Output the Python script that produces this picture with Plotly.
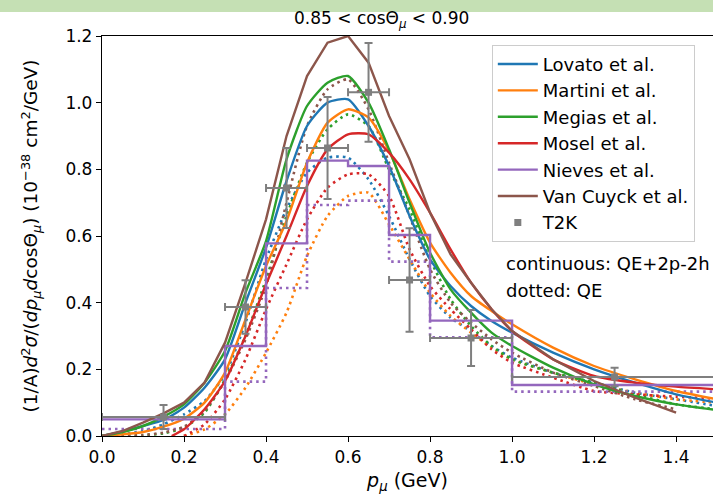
import plotly.graph_objects as go

# ---- data ----
X_GRID = [0.0, 0.05, 0.10, 0.15, 0.20, 0.25, 0.30, 0.35, 0.40, 0.45, 0.50, 0.55, 0.60,
          0.65, 0.70, 0.75, 0.80, 0.85, 0.90, 0.95, 1.00, 1.10, 1.20, 1.30, 1.40, 1.50]
X_VANCUYCK = X_GRID[:-1]
X_MOSEL = [0.17] + X_GRID[4:]
X_LATE = X_GRID[4:]

lovato = [0.0, 0.013, 0.03, 0.048, 0.085, 0.145, 0.23, 0.40, 0.565, 0.765, 0.93, 1.00, 1.01,
          0.93, 0.81, 0.66, 0.53, 0.45, 0.39, 0.345, 0.31, 0.25, 0.20, 0.16, 0.125, 0.10]
martini = [0.0, 0.005, 0.012, 0.028, 0.052, 0.10, 0.19, 0.35, 0.51, 0.645, 0.82, 0.94, 0.98,
           0.955, 0.855, 0.71, 0.58, 0.49, 0.42, 0.375, 0.335, 0.265, 0.21, 0.17, 0.135, 0.11]
megias = [0.0, 0.012, 0.03, 0.058, 0.095, 0.16, 0.255, 0.43, 0.585, 0.83, 0.99, 1.06, 1.08,
          1.0, 0.86, 0.70, 0.55, 0.44, 0.37, 0.31, 0.27, 0.205, 0.155, 0.12, 0.095, 0.078]
mosel = [0.0, 0.02, 0.08, 0.165, 0.30, 0.455, 0.60, 0.75, 0.86, 0.905, 0.905, 0.85, 0.77,
         0.67, 0.56, 0.46, 0.38, 0.315, 0.23, 0.18, 0.16, 0.148, 0.14]
vancuyck = [0.0, 0.015, 0.04, 0.068, 0.10, 0.16, 0.28, 0.46, 0.65, 0.90, 1.08, 1.18, 1.20,
            1.12, 0.96, 0.83, 0.67, 0.545, 0.46, 0.38, 0.315, 0.23, 0.165, 0.115, 0.07]

lovato_qe = [0.0, 0.005, 0.015, 0.035, 0.065, 0.105, 0.185, 0.34, 0.53, 0.68, 0.79, 0.835, 0.835,
             0.77, 0.66, 0.53, 0.42, 0.355, 0.315, 0.27, 0.235, 0.19, 0.16, 0.13, 0.11, 0.09]
megias_qe = [0.0, 0.0, 0.002, 0.008, 0.025, 0.07, 0.17, 0.30, 0.47, 0.66, 0.82, 0.92, 0.965,
             0.93, 0.80, 0.68, 0.53, 0.41, 0.33, 0.27, 0.23, 0.19, 0.16, 0.125, 0.095, 0.08]
vancuyck_qe = [0.0, 0.0, 0.003, 0.01, 0.028, 0.075, 0.165, 0.29, 0.45, 0.70, 0.93, 1.04, 1.07,
               0.98, 0.82, 0.66, 0.50, 0.40, 0.34, 0.29, 0.25, 0.19, 0.15, 0.11, 0.08]
mosel_qe = [0.0, 0.035, 0.11, 0.23, 0.38, 0.515, 0.65, 0.745, 0.785, 0.785, 0.72, 0.56,
            0.45, 0.38, 0.32, 0.26, 0.22, 0.175, 0.135, 0.125, 0.118, 0.112]
martini_qe = [0.0, 0.02, 0.065, 0.145, 0.25, 0.37, 0.54, 0.66, 0.72, 0.73, 0.635, 0.53,
              0.43, 0.36, 0.31, 0.265, 0.23, 0.19, 0.155, 0.13, 0.11, 0.10]

# Nieves et al. histogram (bin edges + contents)
nieves_edges = [0.0, 0.3, 0.4, 0.5, 0.6, 0.7, 0.8, 1.0, 1.5]
nieves = [0.05, 0.27, 0.578, 0.826, 0.81, 0.603, 0.346, 0.153]
nieves_qe = [0.021, 0.163, 0.444, 0.693, 0.706, 0.523, 0.296, 0.133]

# T2K data
t2k_x = [0.15, 0.35, 0.45, 0.55, 0.65, 0.75, 0.90, 1.25]
t2k_xerr = [0.15, 0.05, 0.05, 0.05, 0.05, 0.05, 0.10, 0.25]
t2k_y = [0.057, 0.387, 0.744, 0.864, 1.031, 0.468, 0.294, 0.177]
t2k_yerr = [0.036, 0.08, 0.12, 0.153, 0.148, 0.155, 0.084, 0.028]

COLORS = {
    'Lovato': '#1f77b4', 'Martini': '#ff7f0e', 'Megias': '#2ca02c',
    'Mosel': '#d62728', 'Nieves': '#9467bd', 'Van Cuyck': '#8c564b', 'T2K': '#7f7f7f'
}
FONT = "DejaVu Sans, Arial, sans-serif"
DOT = '2.5px,4px'

fig = go.Figure()

smooth = [
    ('Lovato', X_GRID, lovato, lovato_qe, X_GRID),
    ('Martini', X_GRID, martini, martini_qe, X_LATE),
    ('Megias', X_GRID, megias, megias_qe, X_GRID),
    ('Mosel', X_MOSEL, mosel, mosel_qe, X_LATE),
]

# dotted QE curves first (drawn underneath)
for name, xs, ys, yq, xq in smooth:
    fig.add_trace(go.Scatter(x=xq, y=yq, mode='lines', showlegend=False,
                             line=dict(color=COLORS[name], width=2.6, dash=DOT,
                                       shape='spline', smoothing=0.6)))
fig.add_trace(go.Scatter(x=nieves_edges, y=nieves_qe + [nieves_qe[-1]], mode='lines',
                         showlegend=False,
                         line=dict(color=COLORS['Nieves'], width=2.6, dash=DOT, shape='hv')))
fig.add_trace(go.Scatter(x=X_VANCUYCK, y=vancuyck_qe, mode='lines', showlegend=False,
                         line=dict(color=COLORS['Van Cuyck'], width=2.6, dash=DOT,
                                   shape='spline', smoothing=0.6)))

# continuous QE+2p-2h curves
for name, xs, ys, yq, xq in smooth:
    fig.add_trace(go.Scatter(x=xs, y=ys, mode='lines', name=f'{name} et al.',
                             line=dict(color=COLORS[name], width=2.4,
                                       shape='spline', smoothing=0.6)))
fig.add_trace(go.Scatter(x=nieves_edges, y=nieves + [nieves[-1]], mode='lines',
                         name='Nieves et al.',
                         line=dict(color=COLORS['Nieves'], width=2.4, shape='hv')))
fig.add_trace(go.Scatter(x=X_VANCUYCK, y=vancuyck, mode='lines', name='Van Cuyck et al.',
                         line=dict(color=COLORS['Van Cuyck'], width=2.4)))

fig.add_trace(go.Scatter(
    x=t2k_x, y=t2k_y, mode='markers', name='T2K',
    marker=dict(color=COLORS['T2K'], symbol='square', size=7),
    error_x=dict(type='data', array=t2k_xerr, color=COLORS['T2K'], thickness=2, width=4),
    error_y=dict(type='data', array=t2k_yerr, color=COLORS['T2K'], thickness=2, width=4),
))

fig.update_layout(
    width=713, height=497,
    template='plotly_white',
    paper_bgcolor='white', plot_bgcolor='white',
    font=dict(family=FONT, size=17, color='black'),
    margin=dict(l=102, r=0, t=36, b=61),
    showlegend=True,
    legend=dict(x=0.638, y=0.978, xanchor='left', yanchor='top',
                bgcolor='rgba(255,255,255,0.85)', bordercolor='#cccccc', borderwidth=1,
                font=dict(size=18, family=FONT), tracegroupgap=0, itemwidth=40),
    shapes=[dict(type='rect', xref='paper', yref='paper', x0=-0.2, x1=1.05,
                 y0=1.06, y1=1.10, fillcolor='#c5e0b4', line_width=0, layer='above')],
    annotations=[
        dict(text='0.85 &lt; cosΘ<sub><i>μ</i></sub> &lt; 0.90', xref='paper', yref='paper',
             x=(381 - 102) / 611, y=(436 - 20) / 400, showarrow=False,
             font=dict(size=17), xanchor='center', yanchor='middle'),
        dict(text='continuous: QE+2p-2h', xref='paper', yref='paper',
             x=0.658, y=0.4325, showarrow=False, xanchor='left', yanchor='middle',
             font=dict(size=18)),
        dict(text='dotted: QE', xref='paper', yref='paper',
             x=0.658, y=0.365, showarrow=False, xanchor='left', yanchor='middle',
             font=dict(size=18)),
    ],
)

fig.update_xaxes(range=[0, 1.49], showgrid=False, zeroline=False, showline=True,
                 linecolor='black', linewidth=1.3, mirror=True,
                 ticks='outside', ticklen=5, tickcolor='black',
                 tickvals=[0.0, 0.2, 0.4, 0.6, 0.8, 1.0, 1.2, 1.4], tickformat='.1f',
                 tickfont=dict(size=17),
                 title=dict(text='<i>p</i><sub><i>μ</i></sub> (GeV)', font=dict(size=19),
                            standoff=8))
fig.update_yaxes(range=[0, 1.2], showgrid=False, zeroline=False, showline=True,
                 linecolor='black', linewidth=1.3,
                 ticks='outside', ticklen=5, tickcolor='black',
                 tickvals=[0.0, 0.2, 0.4, 0.6, 0.8, 1.0, 1.2], tickformat='.1f',
                 tickfont=dict(size=17),
                 title=dict(text='(1/A)<i>d</i><sup>2</sup><i>σ</i>/(<i>dp</i><sub><i>μ</i></sub>'
                                 '<i>d</i>cosΘ<sub><i>μ</i></sub>) (10<sup>−38</sup> cm<sup>2</sup>/GeV)',
                            font=dict(size=18.5), standoff=22))

# remove the browser's default body margin so the figure sits at the page origin
fig.write_html("out.html", config={'displayModeBar': False},
               post_script="document.body.style.margin='0';")
